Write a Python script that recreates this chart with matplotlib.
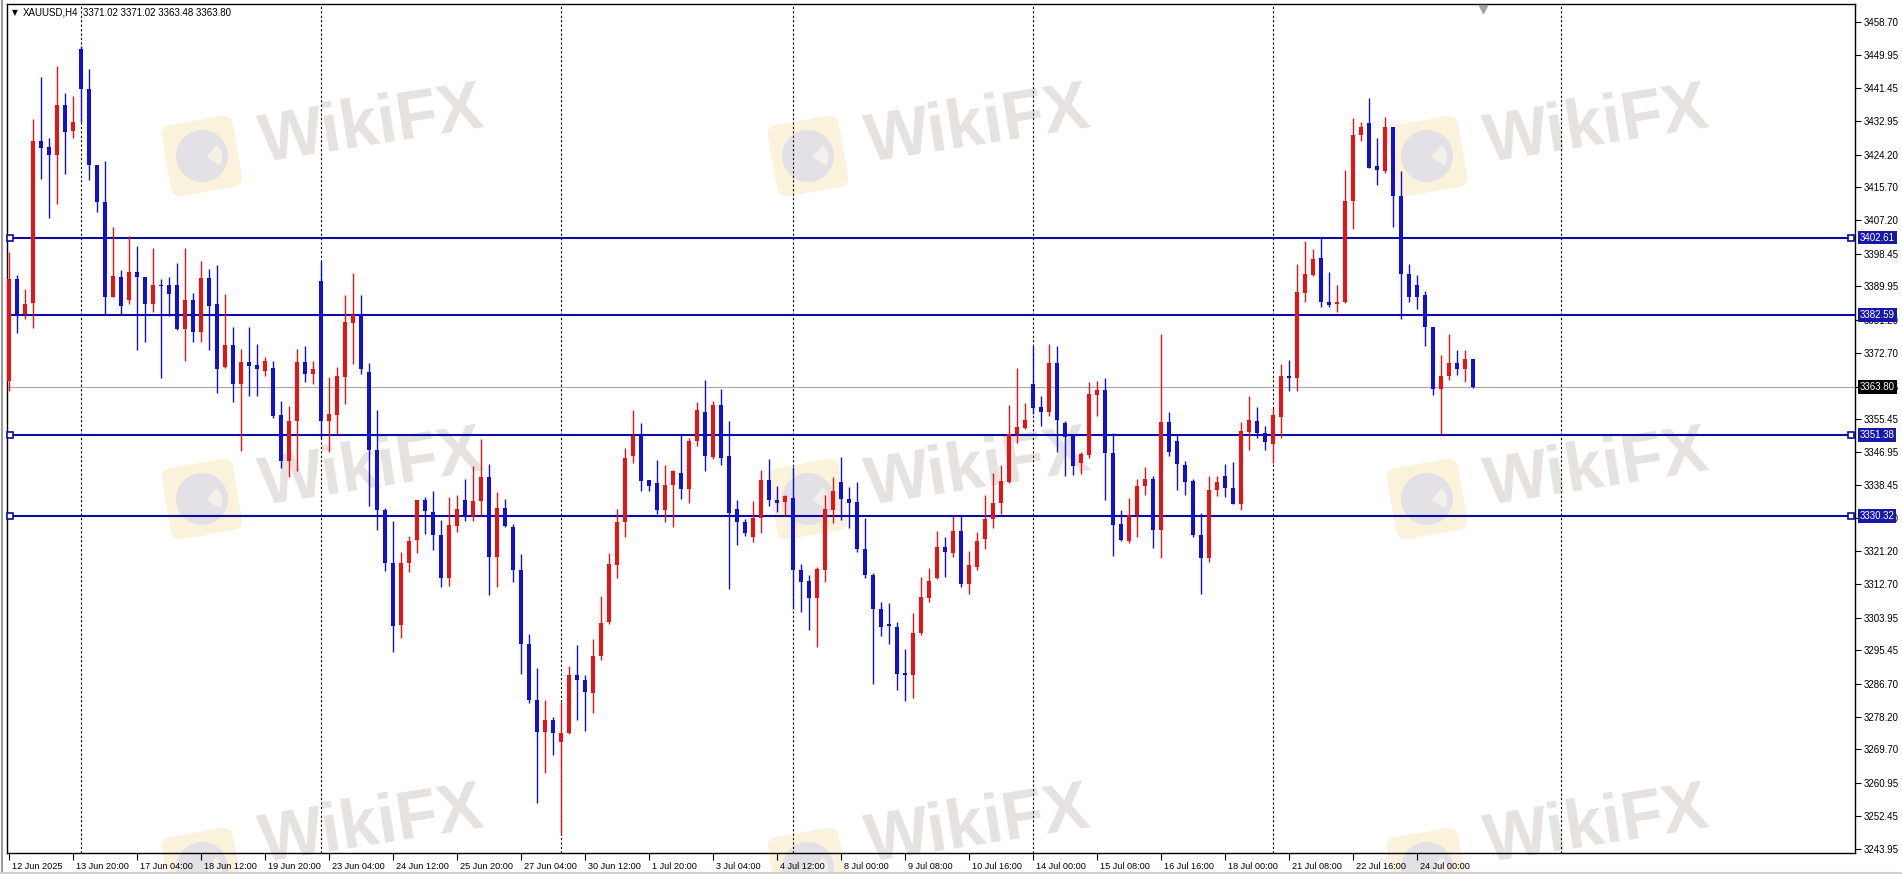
import matplotlib
matplotlib.use("Agg")
import matplotlib.pyplot as plt
import matplotlib.patches as patches
from matplotlib.transforms import Affine2D, ScaledTranslation, blended_transform_factory
from matplotlib.lines import Line2D

# XAUUSD H4 candles (oldest first)
opens = [
    3365.4, 3391.9, 3382.9, 3385.7, 3427.7, 3426.1, 3424.1, 3437.0, 3430.4, 3451.5,
    3441.3, 3421.6, 3411.8, 3387.3, 3392.3, 3386.5, 3393.7, 3392.3, 3385.3, 3390.4,
    3390.4, 3390.2, 3378.9, 3386.5, 3378.1, 3392.2, 3385.5, 3369.0, 3374.8, 3364.5,
    3370.4, 3369.6, 3368.1, 3368.8, 3356.5, 3344.6, 3355.1, 3370.3, 3367.2, 3391.4,
    3355.1, 3356.5, 3366.5, 3380.5, 3382.8, 3367.7, 3347.5, 3331.9, 3318.2, 3302.1,
    3318.1, 3324.1, 3334.6, 3331.4, 3325.3, 3314.3, 3327.7, 3334.5, 3330.2, 3334.1,
    3340.4, 3319.6, 3332.5, 3327.4, 3316.3, 3297.2, 3282.6, 3274.2, 3277.3, 3271.7,
    3273.9, 3288.9, 3287.8, 3284.4, 3294.0, 3302.9, 3317.7, 3328.7, 3345.8, 3351.3,
    3339.6, 3338.9, 3331.9, 3338.5, 3341.6, 3337.4, 3349.8, 3357.3, 3345.6, 3359.2,
    3345.9, 3332.2, 3328.7, 3324.8, 3329.8, 3339.6, 3334.6, 3333.9, 3335.0, 3316.3,
    3313.4, 3308.9, 3316.3, 3331.9, 3339.1, 3334.7, 3333.9, 3321.8, 3315.0, 3306.2,
    3302.3, 3301.5, 3289.6, 3289.0, 3299.9, 3308.9, 3314.3, 3322.2, 3320.6, 3326.4,
    3312.6, 3317.1, 3324.4, 3329.5, 3333.8, 3339.2, 3351.7, 3353.3, 3364.6, 3358.7,
    3357.3, 3370.1, 3354.5, 3351.2, 3344.2, 3346.2, 3361.8, 3363.1, 3346.6, 3328.2,
    3323.7, 3330.7, 3338.0, 3339.9, 3326.7, 3354.7, 3349.8, 3343.6, 3339.5, 3325.5,
    3319.3, 3337.2, 3340.8, 3337.6, 3333.5, 3352.2, 3355.1, 3352.0, 3348.9, 3356.0,
    3366.8, 3366.1, 3388.3, 3393.0, 3397.4, 3385.9, 3385.3, 3385.9, 3412.1, 3429.2,
    3432.3, 3421.2, 3419.9, 3431.3, 3413.4, 3393.3, 3390.3, 3387.6, 3379.3, 3363.4,
    3366.8, 3370.1, 3368.4, 3371.02,
]
highs = [
    3399.0, 3393.0, 3389.2, 3433.4, 3444.4, 3428.6, 3447.1, 3440.1, 3439.4, 3452.5,
    3446.4, 3421.6, 3422.6, 3405.5, 3394.1, 3403.1, 3400.4, 3392.3, 3400.0, 3391.9,
    3392.3, 3396.1, 3400.0, 3388.3, 3396.6, 3394.6, 3395.5, 3387.9, 3379.4, 3373.8,
    3379.3, 3375.1, 3371.5, 3370.5, 3360.3, 3359.0, 3373.8, 3374.4, 3370.5, 3396.6,
    3366.5, 3369.1, 3387.8, 3393.5, 3387.8, 3370.0, 3357.8, 3332.5, 3329.0, 3321.0,
    3325.1, 3334.6, 3335.2, 3336.9, 3329.4, 3335.2, 3335.8, 3339.9, 3343.2, 3350.4,
    3343.9, 3336.5, 3334.8, 3328.2, 3320.4, 3299.8, 3290.8, 3282.6, 3278.1, 3282.0,
    3291.3, 3296.8, 3289.0, 3298.4, 3309.6, 3320.8, 3332.2, 3347.9, 3357.9, 3354.5,
    3339.6, 3344.8, 3343.6, 3342.3, 3351.3, 3350.6, 3360.0, 3365.7, 3360.3, 3363.3,
    3355.1, 3334.5, 3329.6, 3334.1, 3342.3, 3345.2, 3338.2, 3335.8, 3343.1, 3317.8,
    3315.1, 3317.0, 3335.8, 3340.5, 3345.6, 3337.8, 3339.2, 3329.8, 3315.6, 3308.1,
    3307.7, 3302.9, 3295.7, 3305.2, 3314.6, 3316.7, 3326.4, 3324.8, 3330.4, 3330.4,
    3321.3, 3326.1, 3335.8, 3341.5, 3343.6, 3359.1, 3368.8, 3359.6, 3374.4, 3361.4,
    3375.1, 3374.4, 3354.9, 3351.7, 3347.0, 3365.2, 3365.4, 3366.1, 3352.0, 3331.8,
    3334.9, 3339.9, 3343.0, 3340.8, 3377.5, 3357.3, 3351.7, 3344.6, 3339.9, 3331.1,
    3340.8, 3340.8, 3343.9, 3344.3, 3354.7, 3361.4, 3358.7, 3353.6, 3358.4, 3369.7,
    3370.8, 3395.7, 3401.7, 3399.7, 3402.7, 3393.7, 3390.3, 3420.3, 3433.6, 3432.7,
    3439.0, 3428.6, 3434.0, 3431.3, 3419.9, 3395.7, 3393.0, 3388.7, 3379.5, 3372.1,
    3377.5, 3373.5, 3373.5, 3371.02,
]
lows = [
    3362.7, 3377.8, 3381.6, 3379.1, 3417.9, 3407.7, 3411.4, 3419.2, 3428.6, 3432.7,
    3417.6, 3409.3, 3382.8, 3387.3, 3382.9, 3385.5, 3373.4, 3375.6, 3383.3, 3366.1,
    3382.2, 3378.6, 3370.5, 3375.5, 3375.5, 3373.5, 3362.3, 3368.8, 3360.0, 3347.3,
    3361.4, 3361.4, 3366.8, 3355.7, 3342.8, 3340.4, 3341.9, 3365.0, 3364.5, 3350.6,
    3346.9, 3351.7, 3359.4, 3369.7, 3367.3, 3333.0, 3326.7, 3316.1, 3295.1, 3298.6,
    3315.7, 3320.8, 3325.7, 3321.6, 3311.9, 3312.1, 3326.1, 3329.0, 3329.1, 3330.7,
    3309.9, 3312.0, 3327.4, 3313.2, 3289.3, 3281.8, 3255.8, 3263.5, 3268.2, 3247.7,
    3273.7, 3277.3, 3274.4, 3279.1, 3292.9, 3302.2, 3314.3, 3324.8, 3344.2, 3336.9,
    3336.9, 3330.8, 3328.7, 3327.4, 3334.7, 3333.8, 3348.5, 3341.9, 3345.0, 3343.6,
    3311.3, 3322.8, 3325.1, 3323.5, 3326.0, 3332.9, 3331.4, 3330.7, 3306.2, 3305.3,
    3300.6, 3296.4, 3313.1, 3328.4, 3329.4, 3327.2, 3321.0, 3314.3, 3286.7, 3299.2,
    3297.1, 3285.0, 3282.4, 3283.0, 3299.5, 3307.9, 3313.9, 3314.6, 3319.7, 3311.9,
    3310.0, 3316.3, 3321.7, 3327.1, 3330.8, 3338.9, 3349.3, 3352.9, 3356.8, 3353.6,
    3356.4, 3346.9, 3340.8, 3340.9, 3341.2, 3345.5, 3356.4, 3334.5, 3320.0, 3323.7,
    3323.3, 3324.8, 3335.8, 3322.0, 3319.4, 3345.9, 3337.2, 3335.8, 3324.8, 3310.0,
    3318.3, 3335.6, 3335.2, 3333.4, 3331.8, 3347.5, 3350.6, 3347.5, 3344.2, 3350.6,
    3362.7, 3362.7, 3386.0, 3392.7, 3384.7, 3384.7, 3383.2, 3385.6, 3404.8, 3427.6,
    3420.6, 3416.3, 3419.5, 3405.4, 3381.6, 3386.0, 3384.0, 3374.4, 3361.8, 3351.6,
    3365.7, 3367.0, 3365.0, 3363.48,
]
closes = [
    3391.9, 3382.8, 3385.5, 3427.7, 3426.0, 3424.1, 3437.0, 3430.1, 3432.7, 3441.3,
    3421.5, 3411.8, 3387.3, 3392.7, 3384.8, 3393.8, 3392.3, 3385.3, 3390.4, 3390.0,
    3388.0, 3378.9, 3386.5, 3378.2, 3392.2, 3384.9, 3368.6, 3374.8, 3364.5, 3370.4,
    3369.4, 3368.4, 3370.5, 3356.3, 3344.6, 3355.1, 3370.3, 3367.2, 3368.5, 3355.1,
    3356.8, 3366.8, 3380.8, 3382.5, 3368.4, 3347.5, 3331.9, 3318.2, 3301.8, 3318.1,
    3323.7, 3334.6, 3331.5, 3325.3, 3314.3, 3327.9, 3332.1, 3330.3, 3334.2, 3340.4,
    3319.7, 3332.5, 3327.8, 3316.3, 3297.2, 3282.6, 3274.2, 3277.3, 3273.9, 3273.9,
    3288.9, 3287.7, 3284.6, 3294.0, 3302.6, 3317.8, 3328.7, 3345.5, 3351.0, 3339.5,
    3338.2, 3331.9, 3338.5, 3341.9, 3337.4, 3349.8, 3357.9, 3345.8, 3359.2, 3345.5,
    3331.0, 3328.8, 3326.0, 3329.8, 3339.6, 3334.5, 3333.8, 3335.4, 3316.3, 3313.2,
    3308.9, 3316.6, 3332.1, 3336.8, 3334.7, 3333.8, 3321.7, 3315.0, 3306.2, 3301.5,
    3301.8, 3289.3, 3289.0, 3300.0, 3309.2, 3313.4, 3322.2, 3320.9, 3326.4, 3312.6,
    3317.5, 3323.7, 3329.5, 3333.8, 3339.3, 3351.7, 3353.4, 3355.3, 3358.4, 3357.3,
    3370.1, 3355.3, 3350.9, 3343.2, 3346.4, 3362.1, 3363.1, 3346.6, 3328.0, 3324.1,
    3330.7, 3338.1, 3339.9, 3326.7, 3354.7, 3347.0, 3343.9, 3339.2, 3325.3, 3319.3,
    3337.2, 3339.1, 3337.7, 3333.5, 3352.4, 3355.3, 3352.0, 3349.5, 3356.5, 3366.8,
    3366.1, 3388.6, 3393.3, 3397.0, 3385.9, 3385.2, 3386.0, 3412.2, 3429.2, 3431.3,
    3420.8, 3420.3, 3431.3, 3413.4, 3393.3, 3387.3, 3387.3, 3379.3, 3363.4, 3366.8,
    3370.1, 3368.4, 3371.1, 3363.80,
]

date_labels = [
    "12 Jun 2025", "13 Jun 20:00", "17 Jun 04:00", "18 Jun 12:00", "19 Jun 20:00",
    "23 Jun 04:00", "24 Jun 12:00", "25 Jun 20:00", "27 Jun 04:00", "30 Jun 12:00",
    "1 Jul 20:00", "3 Jul 04:00", "4 Jul 12:00", "8 Jul 00:00", "9 Jul 08:00",
    "10 Jul 16:00", "14 Jul 00:00", "15 Jul 08:00", "16 Jul 16:00", "18 Jul 00:00",
    "21 Jul 08:00", "22 Jul 16:00", "24 Jul 00:00",
]
label_step = 8
separator_bars = [9, 39, 69, 98, 128, 158, 194]

price_ticks = [
    3458.70, 3449.95, 3441.45, 3432.95, 3424.20, 3415.70, 3407.20, 3398.45,
    3389.95, 3381.20, 3372.70, 3363.95, 3355.45, 3346.95, 3338.45, 3329.70,
    3321.20, 3312.70, 3303.95, 3295.45, 3286.70, 3278.20, 3269.70, 3260.95,
    3252.45, 3243.95,
]
levels = [3402.61, 3382.59, 3351.38, 3330.32]
level_selected = [True, False, True, True]
bid = 3363.80
header = "XAUUSD,H4"
header_ohlc = "3371.02 3371.02 3363.48 3363.80"

W, H = 1902, 874
BULL = "#ec1212"
BEAR = "#1010dc"
LINE = "#0c0ca2"
FONT = "Liberation Sans"

fig = plt.figure(figsize=(W / 100, H / 100), dpi=100)
fig.patch.set_facecolor("white")


def fx(px):
    return px / W


def fy(py):
    return 1 - py / H


# watermark (figure level, under the axes)
for dx in (0, 606, 1225):
    for dy in (0, 343, 712):
        lx, ly = 202 + dx, H - (156 + dy)
        rot = Affine2D().rotate_deg_around(lx, ly, 10)
        box = patches.FancyBboxPatch(
            (lx - 36, ly - 36), 72, 72,
            boxstyle="round,pad=0,rounding_size=10",
            fc="#fbf2dc", ec="none", transform=rot, zorder=-2,
        )
        fig.patches.append(box)
        fig.patches.append(patches.Circle((lx, ly), 26, fc="#e3e1e6", ec="none",
                                          transform=rot, zorder=-1))
        fig.patches.append(patches.Wedge((lx + 4, ly - 2), 16, -40, 40, fc="#f4f0ea",
                                         ec="none", transform=rot, zorder=-1))
        # keep the lowest row fully inside the picture
        ty = 127 + min(dy, 700)
        fig.text(fx(372 + dx), fy(ty), "WikiFX", family=FONT, weight="bold",
                 fontsize=49, color="#e5e2e0", rotation=9, ha="center", va="center",
                 rotation_mode="anchor", zorder=-1)

ax = fig.add_axes([fx(7), fy(853), fx(1855 - 7), (853 - 4) / H])
ax.patch.set_alpha(0)
ax.set_xlim(-0.25, 230.75)
ax.set_ylim(3242.79, 3463.31)

# weekly separators
for s in separator_bars:
    ax.axvline(s, color="black", lw=0.8, ls=(0, (2, 2)), zorder=1)

# horizontal levels
for lv, sel in zip(levels, level_selected):
    ax.axhline(lv, color=LINE, lw=1.5, zorder=2)
    if sel:
        ax.plot([0.15, 230.3], [lv, lv], ls="none", marker="s", ms=4, mfc="white",
                mec=LINE, mew=1.2, zorder=5, clip_on=False)
ax.axhline(bid, color="#a8a8a8", lw=0.8, zorder=1.5)

# candles
for i, (o, h, l, c) in enumerate(zip(opens, highs, lows, closes)):
    col = BULL if c >= o else BEAR
    ax.vlines(i, l, h, color=col, lw=1.0, zorder=3)
    ax.bar(i, max(abs(c - o), 0.35), bottom=min(o, c), width=0.62, color=col,
           lw=0, zorder=4)

# axes look
for sp in ax.spines.values():
    sp.set_color("black")
    sp.set_linewidth(1.0)

ax.yaxis.tick_right()
ax.set_yticks(price_ticks)
ax.set_yticklabels([f"{p:.2f}" for p in price_ticks])
ax.tick_params(axis="y", direction="out", length=4, width=0.8, pad=2,
               labelsize=7, colors="black")

ax.set_xticks([label_step * k for k in range(len(date_labels))])
ax.set_xticklabels(date_labels)
ax.tick_params(axis="x", direction="out", length=5, width=0.8, pad=1.5,
               labelsize=6.6, colors="black")
shift = ScaledTranslation(3 / 100, 0, fig.dpi_scale_trans)
for lab in ax.get_xticklabels() + ax.get_yticklabels():
    lab.set_family(FONT)
for lab in ax.get_xticklabels():
    lab.set_ha("left")
    lab.set_transform(lab.get_transform() + shift)

# price boxes on the right scale
for lv in levels:
    ax.annotate(f"{lv:.2f}", xy=(1, lv), xycoords=("axes fraction", "data"),
                xytext=(3.5, 0), textcoords="offset points", ha="left", va="center",
                fontsize=7, family=FONT, color="white", zorder=10,
                annotation_clip=False,
                bbox=dict(boxstyle="square,pad=0.18", fc="#1717a8", ec="none"))
ax.annotate(f"{bid:.2f}", xy=(1, bid), xycoords=("axes fraction", "data"),
            xytext=(3.5, 0), textcoords="offset points", ha="left", va="center",
            fontsize=7, family=FONT, color="white", zorder=10,
            annotation_clip=False,
            bbox=dict(boxstyle="square,pad=0.18", fc="black", ec="none"))

# chart shift marker
trans = blended_transform_factory(ax.transData, ax.transAxes)
ax.plot([184.25], [0.994], marker="v", ms=6, color="#a0a0a0", transform=trans,
        clip_on=False, zorder=6)

# header
fig.text(fx(14.5), fy(12.5), "\u25bc", fontsize=5.5, family="DejaVu Sans",
         ha="center", va="center")
fig.text(fx(23), fy(12.5), header, fontsize=7, family=FONT, va="center")
fig.text(fx(83), fy(12.5), header_ohlc, fontsize=7, family=FONT, va="center")

# window border
fig.lines.append(Line2D([fx(1.5), fx(1.5)], [0, 1], color="#9a9a9a", lw=1.5,
                        transform=fig.transFigure))
fig.lines.append(Line2D([0, 1], [fy(872.5), fy(872.5)], color="#d0d0d0", lw=1.5,
                        transform=fig.transFigure))

fig.savefig("out.png", dpi=100, facecolor="white")
